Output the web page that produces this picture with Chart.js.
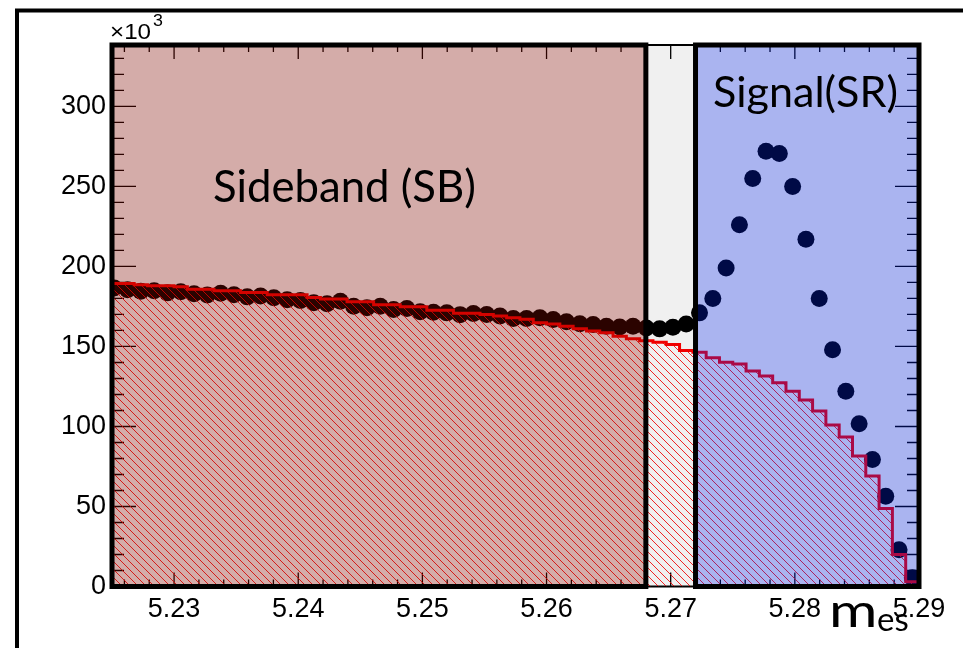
<!DOCTYPE html>
<html lang="en">
<head>
<meta charset="UTF-8">
<title>m_es sideband / signal</title>
<script src="https://cdn.jsdelivr.net/npm/chart.js"></script>
<style>
  body { margin: 0; background: #fff; }
  canvas { display: block; }
</style>
</head>
<body>
<canvas id="mesChart" width="963" height="648"></canvas>
<script>
// histogram binning: 84 bins between 5.20 and 5.29, first visible bin is #23
const binLow = 5.2;
const binHigh = 5.29;
const binCount = 84;
const firstBin = 23;

// data points, x10^3 entries per bin (bins 23..83)
const dataCounts = [
  186.5, 185.5, 184.5, 184.8, 183.5, 184.2, 183.0, 182.2, 183.2, 182.3,
  181.0, 181.6, 180.4, 179.2, 178.8, 177.3, 176.7, 178.3, 175.2, 174.2,
  175.2, 173.1, 173.8, 171.7, 171.4, 171.0, 169.9, 170.6, 170.0, 169.0,
  167.5, 167.5, 167.9, 166.9, 165.4, 164.2, 163.8, 162.7, 162.1, 162.7,
  161.5, 161.0, 162.0, 164.0, 171.0, 180.0, 199.0, 226.0, 255.0, 272.0,
  270.6, 250.0, 217.0, 180.0, 148.0, 122.0, 101.7, 79.4, 56.4, 23.0,
  5.4
];

// red hatched background histogram, x10^3 per bin (bins 23..83)
const histCounts = [
  189.4, 189.4, 188.5, 187.9, 187.9, 187.3, 185.8, 185.8, 184.8, 184.8,
  183.8, 183.8, 182.3, 182.3, 182.3, 180.6, 179.6, 179.6, 178.0, 178.0,
  176.0, 176.0, 174.8, 174.8, 172.7, 172.7, 170.8, 170.8, 170.0, 169.0,
  168.0, 167.0, 164.8, 164.0, 162.7, 161.0, 159.6, 158.5, 156.4, 154.8,
  153.5, 152.7, 151.2, 147.5, 146.4, 142.9, 140.2, 139.0, 134.6, 131.5,
  127.3, 122.0, 116.5, 109.6, 101.0, 93.5, 81.5, 69.0, 48.7, 20.0,
  3.0
];

const xTicks = [5.23, 5.24, 5.25, 5.26, 5.27, 5.28, 5.29];
const yTicks = [0, 50, 100, 150, 200, 250, 300];

// regions
const sidebandRange = [5.225, 5.268];
const gapRange = [5.268, 5.272];
const signalRange = [5.272, 5.29];

const binWidth = (binHigh - binLow) / binCount;
const dataPoints = dataCounts.map((c, i) => ({ x: binLow + (firstBin + i + 0.5) * binWidth, y: c }));
const histPoints = histCounts.map((c, i) => ({ x: binLow + (firstBin + i) * binWidth, y: c }));
histPoints.push({ x: binHigh, y: 0 });

// diagonal red hatch like ROOT fill style
function makeHatch() {
  const s = 8;
  const c = document.createElement('canvas');
  c.width = s; c.height = s;
  const g = c.getContext('2d');
  g.strokeStyle = '#ff0000';
  g.lineWidth = 0.85;
  g.beginPath();
  g.moveTo(-1, -1); g.lineTo(s + 1, s + 1);
  g.moveTo(-1, s - 1); g.lineTo(1, s + 1);
  g.moveTo(s - 1, -1); g.lineTo(s + 1, 1);
  g.stroke();
  return g.createPattern(c, 'repeat');
}

function fitFont(ctx, text, width, family) {
  ctx.font = '100px ' + family;
  return 100 * width / ctx.measureText(text).width;
}

// text drawn slightly wider than tall, like the stretched original
function wideText(ctx, text, x, y, stretch) {
  ctx.save();
  ctx.translate(x, y);
  ctx.scale(stretch, 1);
  ctx.fillText(text, 0, 0);
  ctx.restore();
}

const rootStyle = {
  id: 'rootStyle',
  beforeDatasetsDraw(chart) {
    const { ctx, chartArea: a, scales: { x, y } } = chart;
    ctx.save();
    ctx.strokeStyle = '#000';
    ctx.lineWidth = 2;
    ctx.strokeRect(a.left, a.top, a.right - a.left, a.bottom - a.top);
    ctx.lineWidth = 1.3;
    ctx.beginPath();
    for (let i = 0; i <= 32; i++) {
      const px = x.getPixelForValue(5.226 + i * 0.002);
      const len = i % 5 === 2 ? 14 : 7;
      ctx.moveTo(px, a.bottom); ctx.lineTo(px, a.bottom - len);
      ctx.moveTo(px, a.top); ctx.lineTo(px, a.top + len);
    }
    for (let v = 0; v <= 330; v += 10) {
      const py = y.getPixelForValue(v);
      const len = v % 50 === 0 ? 24 : 12;
      ctx.moveTo(a.left, py); ctx.lineTo(a.left + len, py);
      ctx.moveTo(a.right, py); ctx.lineTo(a.right - len, py);
    }
    ctx.stroke();
    ctx.restore();
  },
  afterDatasetsDraw(chart) {
    const { ctx, chartArea: a, scales: { x } } = chart;
    const box = (r) => [x.getPixelForValue(r[0]), a.top, x.getPixelForValue(r[1]) - x.getPixelForValue(r[0]), a.bottom - a.top];
    ctx.save();
    ctx.fillStyle = 'rgba(128, 9, 0, 0.337)';
    ctx.fillRect(...box(sidebandRange));
    ctx.fillStyle = 'rgba(0, 0, 0, 0.06)';
    ctx.fillRect(...box(gapRange));
    ctx.fillStyle = 'rgba(0, 30, 210, 0.333)';
    ctx.fillRect(...box(signalRange));
    ctx.strokeStyle = '#000';
    ctx.lineWidth = 5;
    ctx.strokeRect(...box(sidebandRange));
    ctx.strokeRect(...box(signalRange));

    ctx.fillStyle = '#000';
    ctx.textBaseline = 'alphabetic';
    ctx.textAlign = 'left';
    let fs = fitFont(ctx, 'Sideband (SB)', 263, 'Lato');
    ctx.font = fs + 'px Lato';
    ctx.fillText('Sideband (SB)', 213, 202);
    fs = fitFont(ctx, 'Signal(SR)', 185, 'Lato');
    ctx.font = fs + 'px Lato';
    ctx.fillText('Signal(SR)', 713, 107);
    ctx.restore();
  },
  afterDraw(chart) {
    const { ctx } = chart;
    ctx.save();
    ctx.strokeStyle = '#000';
    ctx.lineWidth = 4;
    ctx.beginPath();
    ctx.moveTo(15, 10.5); ctx.lineTo(963, 10.5);
    ctx.moveTo(17, 8.5); ctx.lineTo(17, 648);
    ctx.stroke();

    ctx.fillStyle = '#000';
    ctx.textAlign = 'left';
    ctx.textBaseline = 'alphabetic';
    ctx.font = '22px "Liberation Sans"';
    wideText(ctx, '\u00d710', 110, 39, 1.1);
    ctx.font = '17px "Liberation Sans"';
    wideText(ctx, '3', 153, 26, 1.05);

    ctx.font = '46px Lato';
    wideText(ctx, 'm', 829, 627, 1.28);
    ctx.font = '33px Lato';
    ctx.fillText('es', 877, 631);
    ctx.restore();
  }
};

new Chart(document.getElementById('mesChart'), {
  type: 'scatter',
  data: {
    datasets: [
      {
        type: 'line',
        data: histPoints,
        stepped: true,
        borderColor: '#ff0000',
        borderWidth: 3,
        backgroundColor: makeHatch(),
        fill: 'origin',
        pointRadius: 0,
        order: 1
      },
      {
        type: 'scatter',
        data: dataPoints,
        pointRadius: 8.5,
        pointBackgroundColor: '#000',
        pointBorderWidth: 0,
        order: 2
      }
    ]
  },
  options: {
    responsive: false,
    animation: false,
    devicePixelRatio: 1,
    layout: { padding: { top: 45, right: 44, left: 0, bottom: 0 } },
    plugins: { legend: { display: false }, tooltip: { enabled: false } },
    scales: {
      x: {
        type: 'linear',
        min: 5.225,
        max: 5.29,
        grid: { display: false, drawTicks: false },
        border: { display: false },
        afterFit(s) { s.height = 61.5; },
        afterBuildTicks(s) { s.ticks = xTicks.map(v => ({ value: v })); },
        ticks: {
          padding: 7,
          color: '#000',
          font: { family: '"Liberation Sans"', size: 27 },
          callback: v => v.toFixed(2)
        }
      },
      y: {
        type: 'linear',
        min: 0,
        max: 338.4,
        grid: { display: false, drawTicks: false },
        border: { display: false },
        afterFit(s) { s.width = 112; },
        afterBuildTicks(s) { s.ticks = yTicks.map(v => ({ value: v })); },
        ticks: {
          padding: 6,
          color: '#000',
          font: { family: '"Liberation Sans"', size: 27 },
          callback: v => String(v)
        }
      }
    }
  },
  plugins: [rootStyle]
});
</script>
</body>
</html>
